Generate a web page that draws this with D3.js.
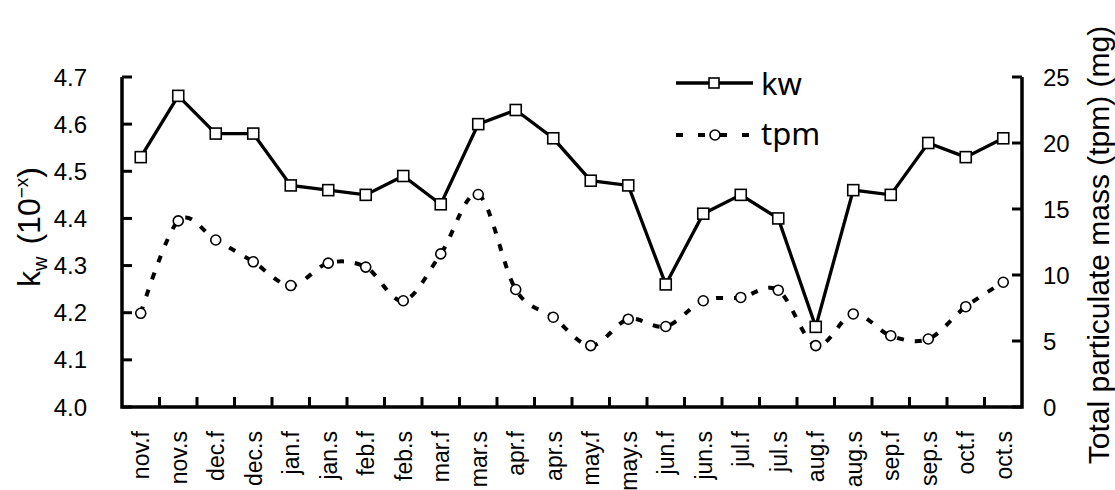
<!DOCTYPE html>
<html><head><meta charset="utf-8">
<script src="https://cdn.jsdelivr.net/npm/d3@7"></script>
<style>body{margin:0;background:#fff}svg{display:block}</style>
</head><body>
<svg id="c" width="1115" height="490"></svg>
<script>
const categories = ["nov.f","nov.s","dec.f","dec.s","jan.f","jan.s","feb.f","feb.s","mar.f","mar.s","apr.f","apr.s","may.f","may.s","jun.f","jun.s","jul.f","jul.s","aug.f","aug.s","sep.f","sep.s","oct.f","oct.s"];
const kw  = [4.53,4.66,4.58,4.58,4.47,4.46,4.45,4.49,4.43,4.60,4.63,4.57,4.48,4.47,4.26,4.41,4.45,4.40,4.17,4.46,4.45,4.56,4.53,4.57];
const tpm = [7.1,14.1,12.65,11.0,9.2,10.9,10.6,8.05,11.6,16.1,8.9,6.8,4.65,6.65,6.1,8.05,8.3,8.85,4.65,7.05,5.4,5.15,7.6,9.45];
const leftTicks = [4.0,4.1,4.2,4.3,4.4,4.5,4.6,4.7];
const rightTicks = [0,5,10,15,20,25];

const svg = d3.select("#c");
const L = 122, R = 1022, T = 77, B = 407;
const x = d3.scaleBand().domain(categories).range([L, R]);
const yL = d3.scaleLinear().domain([4.0, 4.7]).range([B, T]);
const yR = d3.scaleLinear().domain([0, 25]).range([B, T]);
const cx = d => x(d) + x.bandwidth() / 2;
const font = "'Liberation Sans', Arial, sans-serif";

const g = svg.append("g");
g.append("path").attr("d", `M${L},${T}V${B}H${R}V${T}`).attr("fill","none").attr("stroke","#000").attr("stroke-width",3.5);
leftTicks.forEach(v => {
  g.append("line").attr("x1",L).attr("x2",L+10).attr("y1",yL(v)).attr("y2",yL(v)).attr("stroke","#000").attr("stroke-width",3);
  g.append("text").attr("x",L-35).attr("y",yL(v)).attr("dy","0.36em").attr("text-anchor","end")
    .attr("font-family",font).attr("font-size",24).text(v.toFixed(1));
});
rightTicks.forEach(v => {
  g.append("line").attr("x1",R).attr("x2",R-10).attr("y1",yR(v)).attr("y2",yR(v)).attr("stroke","#000").attr("stroke-width",3);
  g.append("text").attr("x",R+21).attr("y",yR(v)).attr("dy","0.36em").attr("text-anchor","start")
    .attr("font-family",font).attr("font-size",24).text(v);
});
categories.slice(1).forEach(c => {
  g.append("line").attr("x1",x(c)).attr("x2",x(c)).attr("y1",B).attr("y2",B-10).attr("stroke","#000").attr("stroke-width",3);
});
categories.forEach(c => {
  g.append("text").attr("transform",`translate(${cx(c)},431) rotate(-90)`).attr("dy","0.36em")
    .attr("text-anchor","end").attr("font-family",font).attr("font-size",23).text(c);
});

const lt = svg.append("text").attr("transform","translate(40,227) rotate(-90)").attr("text-anchor","middle")
  .attr("font-family",font).attr("font-size",32);
lt.append("tspan").text("k");
lt.append("tspan").attr("font-size",20).attr("dy",7).text("w");
lt.append("tspan").attr("dy",-7).attr("dx",12).text("(10");
lt.append("tspan").attr("font-size",19).attr("dy",-12).text("−x");
lt.append("tspan").attr("dy",12).text(")");
svg.append("text").attr("transform","translate(1109,245) rotate(-90)").attr("text-anchor","middle")
  .attr("font-family",font).attr("font-size",30).text("Total particulate mass (tpm)  (mg)");

const lineT = d3.line().x((d,i)=>cx(categories[i])).y(d=>yR(d)).curve(d3.curveCardinal.tension(0));
svg.append("path").datum(tpm).attr("d",lineT).attr("fill","none").attr("stroke","#000")
  .attr("stroke-width",4).attr("stroke-dasharray","7,11");
svg.selectAll(".ct").data(tpm).join("circle").attr("cx",(d,i)=>cx(categories[i])).attr("cy",d=>yR(d))
  .attr("r",5).attr("fill","#fff").attr("stroke","#000").attr("stroke-width",1.6);

const lineK = d3.line().x((d,i)=>cx(categories[i])).y(d=>yL(d));
svg.append("path").datum(kw).attr("d",lineK).attr("fill","none").attr("stroke","#000").attr("stroke-width",3.3);
svg.selectAll(".sq").data(kw).join("rect").attr("x",(d,i)=>cx(categories[i])-5.5).attr("y",d=>yL(d)-5.5)
  .attr("width",11).attr("height",11).attr("fill","#fff").attr("stroke","#000").attr("stroke-width",1.6);

const lg = svg.append("g");
const lf = "'Noto Sans', 'Open Sans', sans-serif";
lg.append("line").attr("x1",676).attr("x2",753).attr("y1",83).attr("y2",83).attr("stroke","#000").attr("stroke-width",3.3);
lg.append("rect").attr("x",709).attr("y",78).attr("width",10).attr("height",10).attr("fill","#fff").attr("stroke","#000").attr("stroke-width",1.6);
lg.append("text").attr("x",761).attr("y",95).attr("font-family",lf).attr("font-size",31).text("kw");
lg.append("line").attr("x1",676).attr("x2",753).attr("y1",135).attr("y2",135).attr("stroke","#000").attr("stroke-width",4).attr("stroke-dasharray","7,15");
lg.append("circle").attr("cx",715).attr("cy",135).attr("r",5).attr("fill","#fff").attr("stroke","#000").attr("stroke-width",1.6);
lg.append("text").attr("x",761).attr("y",145).attr("font-family",lf).attr("font-size",31).text("tpm");
</script>
</body></html>
